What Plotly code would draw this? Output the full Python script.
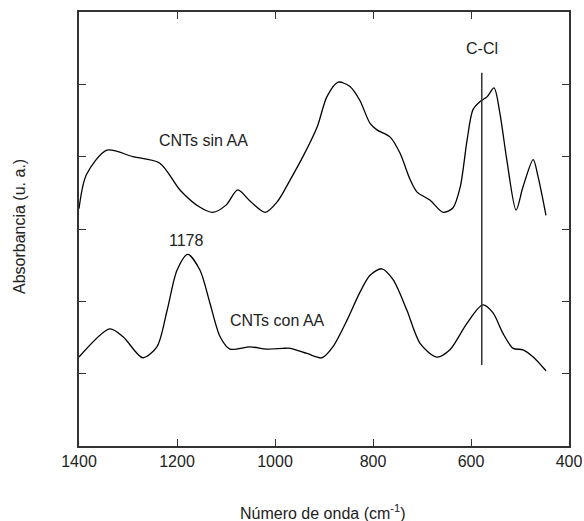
import plotly.graph_objects as go

# Spectrum without AA (top curve)
wn_sin = [1400, 1385, 1343, 1290, 1235, 1194, 1153, 1127, 1100, 1076, 1050, 1020, 995, 969, 943, 914, 894,
          871, 847, 827, 806, 792, 765, 745, 724, 710, 684, 657, 637, 622, 608, 596, 582, 567, 553, 541,
          527, 508, 494, 473, 463, 447]
ab_sin = [3.28, 3.75, 4.09, 4.0, 3.91, 3.54, 3.30, 3.23, 3.33, 3.54, 3.38, 3.23, 3.38, 3.68, 4.0, 4.41, 4.83,
          5.03, 4.97, 4.78, 4.46, 4.37, 4.27, 4.05, 3.68, 3.51, 3.40, 3.23, 3.29, 3.58, 4.23, 4.65, 4.76,
          4.83, 4.95, 4.60, 3.96, 3.26, 3.58, 3.96, 3.72, 3.19]

# Spectrum with AA (bottom curve)
wn_con = [1400, 1337, 1310, 1270, 1241, 1220, 1200, 1178, 1153, 1133, 1112, 1092, 1051, 1016, 984, 969,
          935, 904, 882, 853, 827, 806, 782, 759, 731, 704, 670, 643, 608, 576, 555, 535, 514, 494, 473, 447]
ab_con = [1.23, 1.62, 1.51, 1.22, 1.37, 1.88, 2.43, 2.65, 2.43, 1.98, 1.51, 1.34, 1.37, 1.34, 1.35, 1.35,
          1.28, 1.22, 1.37, 1.74, 2.12, 2.36, 2.45, 2.30, 1.88, 1.42, 1.23, 1.33, 1.70, 1.95, 1.84, 1.56,
          1.35, 1.33, 1.23, 1.04]

ccl_wn = 578
ccl_y = [1.12, 5.16]

x_ticks = [1400, 1200, 1000, 800, 600, 400]
y_ticks = [1, 2, 3, 4, 5]

FONT = "Liberation Sans, Arial, sans-serif"
TXT = "#222"
fig = go.Figure()
fig.add_trace(go.Scatter(x=wn_sin, y=ab_sin, mode="lines", line=dict(color="black", width=1.3, shape="spline", smoothing=0.8), showlegend=False))
fig.add_trace(go.Scatter(x=wn_con, y=ab_con, mode="lines", line=dict(color="black", width=1.3, shape="spline", smoothing=0.8), showlegend=False))
fig.add_trace(go.Scatter(x=[ccl_wn, ccl_wn], y=ccl_y, mode="lines", line=dict(color="#333", width=1.5), showlegend=False))

ann = [
    dict(x=ccl_wn, y=5.5, text="C-Cl"),
    dict(x=1145, y=4.23, text="CNTs sin AA"),
    dict(x=1180, y=2.84, text="1178"),
    dict(x=994, y=1.74, text="CNTs con AA"),
]
for a in ann:
    fig.add_annotation(x=a["x"], y=a["y"], text=a["text"], showarrow=False, font=dict(family=FONT, size=16, color=TXT))

fig.add_annotation(xref="paper", yref="paper", x=-0.12, y=0.505, text="Absorbancia (u. a.)", textangle=-90,
                   showarrow=False, font=dict(family=FONT, size=16, color=TXT), xanchor="center", yanchor="middle")
fig.add_annotation(xref="paper", yref="paper", x=0.497, y=-0.152, text="Número de onda (cm<sup>-1</sup>)",
                   showarrow=False, font=dict(family=FONT, size=16, color=TXT), xanchor="center", yanchor="middle")

fig.update_layout(
    width=584, height=521,
    margin=dict(l=79, r=15, t=12, b=75),
    paper_bgcolor="white", plot_bgcolor="white",
    font=dict(family=FONT, size=16, color=TXT),
    xaxis=dict(range=[1400, 400], tickvals=x_ticks, ticks="inside", ticklen=7, tickcolor="#333",
               showline=True, linecolor="#333", linewidth=1.5, mirror="ticks", showgrid=False, zeroline=False,
               automargin=False, tickfont=dict(size=16)),
    yaxis=dict(range=[0, 6], tickvals=y_ticks, showticklabels=False, ticks="inside", ticklen=7, tickcolor="#333",
               showline=True, linecolor="#333", linewidth=1.5, mirror="ticks", showgrid=False, zeroline=False,
               automargin=False),
)
fig.write_html("out.html", config={"displayModeBar": False},
               post_script="document.body.style.margin='0';document.body.style.overflow='hidden';")
